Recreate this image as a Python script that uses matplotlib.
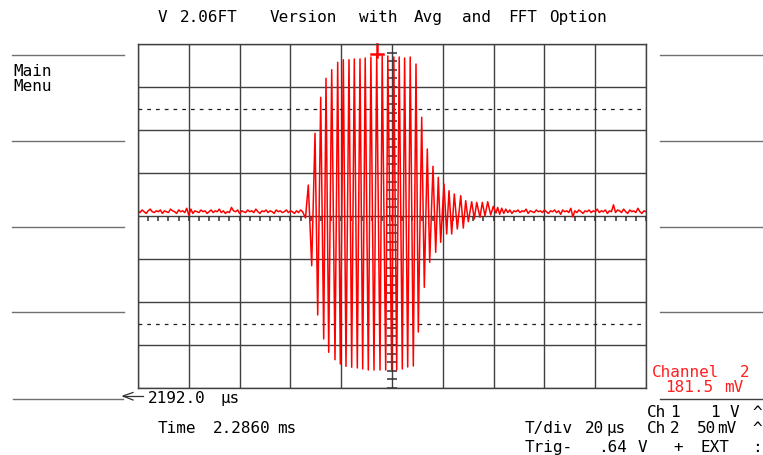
import numpy as np
import matplotlib
matplotlib.use("Agg")
import matplotlib.pyplot as plt

# time in microseconds from the left edge of the screen, voltage in mV (Ch 2, 50 mV/div)
t_div = 20
v_div = 50
n_xdiv = 10
n_ydiv = 8

# baseline noise before the burst, sampled every 0.8 us from t = 0
noise_dt = 0.8
noise_left = [6, 4, 7, 5, 3, 6, 8, 5, 4, 6,
              5, 7, 3, 6, 5, 4, 8, 6, 5, 3,
              7, 5, 6, 4, 9, 1, 8, 3, 6, 5,
              4, 7, 5, 6, 3, 5, 7, 4, 6, 5,
              8, 4, 6, 3, 5, 4, 10, 6, 5, 7,
              3, 6, 5, 4, 7, 5, 6, 4, 8, 5,
              3, 6, 5, 7, 4, 6, 5, 3, 7, 5,
              6, 4, 5, 7, 4, 6, 5, 3, 6, 4,
              7, 5]

# burst: successive extrema (time us, value mV)
burst_t = [65.94, 67.05, 68.39, 69.69, 70.75, 71.93, 73.11, 74.02, 75.08, 76.26,
           77.56, 78.62, 79.65, 80.83, 81.89, 83.07, 84.13, 85.16, 86.34, 87.40,
           88.46, 89.45, 90.67, 91.69, 92.91, 93.98, 95.28, 96.14, 97.52, 98.35,
           99.88, 100.71, 101.85, 102.83, 104.06, 104.96, 106.18, 107.17, 108.39, 109.45,
           110.35, 111.69, 112.72, 113.90, 114.84, 116.14, 117.20, 118.23, 119.17, 120.47,
           121.53, 122.44, 123.50, 124.53, 125.71, 127.05, 128.07, 129.02, 130.04, 131.38,
           132.40, 133.35, 134.65, 135.55, 136.61, 137.68, 138.86, 139.88, 140.94]
burst_v = [-2.3, 36.0, -57.8, 96.2, -115.1, 138.0, -143.0, 160.1, -158.5, 170.1,
           -167.1, 178.7, -172.1, 181.7, -174.8, 181.7, -175.9, 182.6, -176.7, 182.6,
           -177.9, 183.7, -179.1, 184.9, -179.1, 186.0, -179.1, 186.0, -179.1, 186.0,
           -179.1, 184.9, -179.1, 184.9, -177.9, 183.7, -175.6, 184.9, -174.4, 176.7,
           -134.9, 114.8, -82.9, 77.9, -53.8, 57.8, -42.2, 45.0, -30.6, 37.2,
           -20.9, 29.4, -20.9, 25.6, -15.1, 23.6, -14.0, 17.8, -6.6, 16.6,
           -3.5, 15.9, -1.5, 15.9, 0.3, 16.6, 1.2, 11.3, 3.5]

# baseline noise after the burst, every 0.8 us from t = 141.6
noise_right_t0 = 141.6
noise_right = [10, 2, 9, 3, 8, 4, 7, 3, 6, 5,
               7, 4, 6, 5, 8, 3, 6, 5, 4, 7,
               5, 6, 4, 7, 5, 3, 6, 5, 7, 4,
               6, 2, 7, 5, 6, 4, 9, -1, 6, 4,
               7, 5, 3, 6, 5, 7, 4, 6, 5, 8,
               4, 6, 5, 7, 3, 6, 5, 13, 4, 7,
               6, 4, 8, 5, 3, 7, 5, 6, 4, 9,
               5, 3, 6, 5]

t_left = np.arange(len(noise_left)) * noise_dt
t_right = noise_right_t0 + np.arange(len(noise_right)) * noise_dt
trace_t = np.concatenate([t_left, burst_t, t_right])
trace_v = np.concatenate([noise_left, burst_v, noise_right])

trig_t = 94.1
trig_v = 188.4

W, H = 763, 456
fig = plt.figure(figsize=(W / 100, H / 100), dpi=100)

# full-figure overlay in pixel units for the soft-key lines and labels
bg = fig.add_axes([0, 0, 1, 1], zorder=0)
bg.set_xlim(0, W)
bg.set_ylim(H, 0)
bg.axis("off")

ax = fig.add_axes([138 / W, 1 - 389 / H, 508 / W, 344 / H], zorder=1)
ax.set_xlim(0, n_xdiv * t_div)
ax.set_ylim(-n_ydiv / 2 * v_div, n_ydiv / 2 * v_div)
ax.set_xticks(np.arange(0, n_xdiv * t_div + 1, t_div))
ax.set_yticks(np.arange(-200, 201, v_div))
ax.grid(True, color="#404040", lw=1.0)
ax.tick_params(length=0, labelbottom=False, labelleft=False)
for s in ax.spines.values():
    s.set_color("#404040")
    s.set_linewidth(1.0)

for lv in (-125, 125):
    ax.axhline(lv, color="#202020", lw=0.9, dashes=(3, 4))

# minor ticks on the centre lines
ax.vlines(np.arange(0, 201, 4), -6, 0, color="#303030", lw=1.1)
ax.hlines(np.arange(-200, 201, 10), 97.9, 102.1, color="#303030", lw=1.1)

ax.plot(trace_t, trace_v, color="#ff0000", lw=1.1)

# trigger marker
ax.plot([trig_t, trig_t], [200, 185], color="#ff0000", lw=1.8, clip_on=False)
ax.plot([trig_t - 2.5, trig_t + 2.5], [trig_v, trig_v], color="#ff0000", lw=1.8, clip_on=False)

# soft-key separator lines
for y in (56, 142, 228, 313):
    bg.plot([12, 124], [y, y], color="#707070", lw=1.0)
    bg.plot([660, 763], [y, y], color="#707070", lw=1.0)
bg.plot([660, 763], [400, 400], color="#404040", lw=1.0)
bg.plot([13, 123], [400, 400], color="#707070", lw=1.0)
bg.plot([123, 143], [397, 397], color="#303030", lw=0.9)
bg.plot([133, 123, 133], [393.5, 397, 401], color="#303030", lw=0.9)

fs = 11.5
font = dict(family="DejaVu Sans Mono", fontsize=fs, va="baseline", ha="left")


def put(x, y, s, color="black"):
    bg.text(x, y, s, color=color, **font)


# title
for x, s in [(158, "V"), (180, "2.06FT"), (270, "Version"), (359, "with"),
             (414, "Avg"), (462, "and"), (508, "FFT"), (549, "Option")]:
    put(x, 22, s)

put(13, 76, "Main")
put(13, 91, "Menu")

put(148, 403, "2192.0")
put(220, 403, "µs")
put(158, 433, "Time")
put(213, 433, "2.2860")
put(277, 433, "ms")

red = "#ff2020"
put(652, 377, "Channel", red)
put(740, 377, "2", red)
put(665, 392, "181.5", red)
put(724, 392, "mV", red)

for x, s in [(647, "Ch"), (670, "1"), (710, "1"), (730, "V"), (752, "^")]:
    put(x, 417, s)
for x, s in [(525, "T/div"), (585, "20"), (606, "µs"), (647, "Ch"), (670, "2"),
             (697, "50"), (717, "mV"), (752, "^")]:
    put(x, 433, s)
for x, s in [(525, "Trig-"), (598, ".64"), (638, "V"), (673, "+"),
             (700, "EXT"), (752, ":")]:
    put(x, 452, s)

fig.savefig("out.png", dpi=100, facecolor="white")
